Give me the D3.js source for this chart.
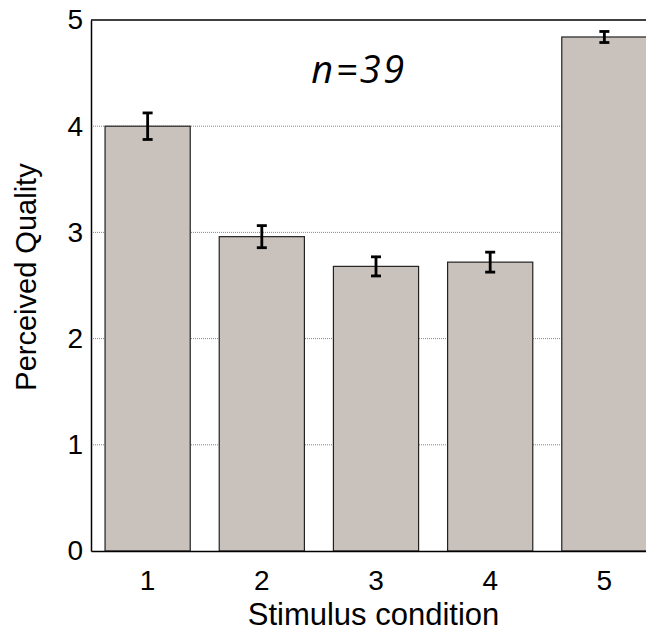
<!DOCTYPE html>
<html>
<head>
<meta charset="utf-8">
<script src="https://cdn.jsdelivr.net/npm/d3@7"></script>
<style>
  body { margin: 0; background: #fff; }
  svg { display: block; }
</style>
</head>
<body>
<div id="chart"></div>
<script>
// chart data
const conditions = ["1", "2", "3", "4", "5"];
const quality = [4.0, 2.96, 2.68, 2.72, 4.84];
const errors = [0.125, 0.104, 0.09, 0.094, 0.052];
const yTicks = [0, 1, 2, 3, 4, 5];

const W = 646, H = 633;
const margin = {top: 20, right: -15, bottom: 82, left: 91},
  width = W - margin.left - margin.right,
  height = H - margin.top - margin.bottom;

const font = "Liberation Sans, Arial, sans-serif";

const svg = d3.select("#chart")
  .append("svg")
  .attr("width", W)
  .attr("height", H)
  .append("g")
  .attr("transform", `translate(${margin.left},${margin.top})`);

const x = d3.scaleBand()
  .domain(conditions)
  .range([0, width])
  .paddingInner(0.254)
  .paddingOuter(0.123);

const y = d3.scaleLinear()
  .domain([0, 5])
  .range([height, 0]);

// dotted grid lines
svg.selectAll(".grid")
  .data(yTicks.filter(t => t > 0 && t < 5))
  .join("line")
  .attr("x1", 0).attr("x2", width)
  .attr("y1", d => y(d)).attr("y2", d => y(d))
  .attr("stroke", "#888")
  .attr("stroke-width", 1)
  .attr("stroke-dasharray", "1,1");

// top frame line
svg.append("line")
  .attr("x1", 0).attr("x2", width)
  .attr("y1", y(5)).attr("y2", y(5))
  .attr("stroke", "#000").attr("stroke-width", 1.5);

// bars
svg.selectAll(".bar")
  .data(conditions)
  .join("rect")
  .attr("x", d => x(d))
  .attr("y", (d, i) => y(quality[i]))
  .attr("width", x.bandwidth())
  .attr("height", (d, i) => height - y(quality[i]))
  .attr("fill", "#c9c1bc")
  .attr("stroke", "#222")
  .attr("stroke-width", 1.2);

// error bars
const eb = svg.selectAll(".err")
  .data(conditions)
  .join("g")
  .attr("transform", d => `translate(${x(d) + x.bandwidth() / 2},0)`);
eb.append("line")
  .attr("y1", (d, i) => y(quality[i] + errors[i]))
  .attr("y2", (d, i) => y(quality[i] - errors[i]))
  .attr("stroke", "#000").attr("stroke-width", 2.8);
[1, -1].forEach(s => {
  eb.append("line")
    .attr("x1", -5).attr("x2", 5)
    .attr("y1", (d, i) => y(quality[i] + s * errors[i]))
    .attr("y2", (d, i) => y(quality[i] + s * errors[i]))
    .attr("stroke", "#000").attr("stroke-width", 2.8);
});

// axes
const yAxis = svg.append("g")
  .call(d3.axisLeft(y).tickValues(yTicks).tickFormat(d3.format("d")).tickSize(0).tickPadding(8));
yAxis.select(".domain").attr("stroke", "#000").attr("stroke-width", 1.5);
yAxis.selectAll("text")
  .style("font-family", font)
  .style("font-size", "28px")
  .attr("fill", "#000");

const xAxis = svg.append("g")
  .attr("transform", `translate(0,${height})`)
  .call(d3.axisBottom(x).tickSize(0).tickPadding(19));
xAxis.select(".domain").attr("stroke", "#000").attr("stroke-width", 1.5);
xAxis.selectAll("text")
  .style("font-family", font)
  .style("font-size", "28px")
  .attr("fill", "#000");

// axis titles
svg.append("text")
  .attr("x", 373.5 - margin.left)
  .attr("y", 625 - margin.top)
  .attr("text-anchor", "middle")
  .style("font-family", font)
  .style("font-size", "31px")
  .text("Stimulus condition");

svg.append("text")
  .attr("transform", `translate(${36 - margin.left},${277 - margin.top}) rotate(-90)`)
  .attr("text-anchor", "middle")
  .style("font-family", font)
  .style("font-size", "29px")
  .text("Perceived Quality");

// sample size annotation
svg.append("text")
  .attr("x", 359 - margin.left)
  .attr("y", 83 - margin.top)
  .attr("text-anchor", "middle")
  .style("font-family", "Open Sans, sans-serif")
  .style("font-style", "italic")
  .style("font-size", "38px")
  .style("letter-spacing", "2.5px")
  .text("n=39");
</script>
</body>
</html>
